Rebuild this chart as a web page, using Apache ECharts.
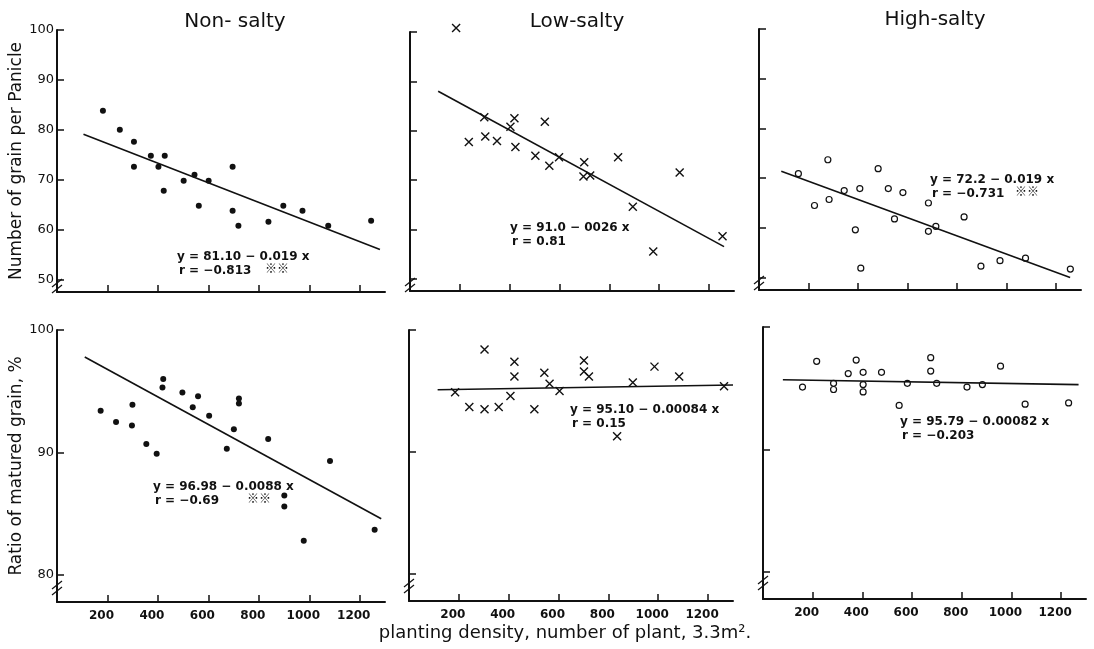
<!DOCTYPE html>
<html>
<head>
<meta charset="utf-8">
<script src="https://cdn.jsdelivr.net/npm/echarts@6/dist/echarts.min.js"></script>
<style>
  html, body { margin: 0; padding: 0; background: #fff; }
  #chart { width: 1094px; height: 649px; }
</style>
</head>
<body>
<div id="chart"></div>
<script>
// planting density (plants / 3.3 m2) vs. grain traits, three salt levels
var xTicks = [200, 400, 600, 800, 1000, 1200];
var yTicksGrain = [50, 60, 70, 80, 90, 100];
var yTicksRatio = [80, 90, 100];
var panelTitles = ['Non- salty', 'Low-salty', 'High-salty'];

// number of grain per panicle
var grainNon = [[182, 83.8], [249, 80.0], [305, 77.6], [305, 72.6], [372, 74.8], [402, 72.6], [427, 74.8], [423, 67.8],
  [502, 69.8], [545, 71.0], [562, 64.8], [601, 69.8], [696, 72.6], [696, 63.8], [719, 60.8], [838, 61.6],
  [897, 64.8], [973, 63.8], [1075, 60.8], [1245, 61.8]];
var grainLow = [[185, 100.8], [236, 77.7], [298, 82.7], [302, 78.8], [349, 77.9], [403, 80.8], [419, 82.5], [423, 76.7],
  [503, 74.9], [541, 81.8], [559, 72.9], [598, 74.6], [699, 73.6], [696, 70.7], [723, 70.9], [835, 74.6],
  [894, 64.6], [976, 55.5], [1082, 71.5], [1254, 58.6]];
var grainHigh = [[159, 70.9], [224, 64.5], [278, 73.7], [283, 65.7], [344, 67.5], [389, 59.6], [407, 67.9], [411, 51.9],
  [481, 71.9], [522, 67.9], [547, 61.8], [581, 67.1], [684, 65.0], [684, 59.3], [714, 60.3], [828, 62.2],
  [896, 52.3], [973, 53.4], [1076, 53.9], [1257, 51.7]];

// ratio of matured grain, %
var ratioNon = [[173, 93.4], [234, 92.5], [299, 93.9], [297, 92.2], [354, 90.7], [395, 89.9], [421, 96.0], [418, 95.3],
  [497, 94.9], [538, 93.7], [559, 94.6], [603, 93.0], [673, 90.3], [701, 91.9], [721, 94.0], [721, 94.4],
  [837, 91.1], [901, 86.5], [901, 85.6], [978, 82.8], [1082, 89.3], [1259, 83.7]];
var ratioLow = [[185, 94.9], [242, 93.7], [303, 98.4], [303, 93.5], [360, 93.7], [407, 94.6], [423, 97.4], [423, 96.2],
  [503, 93.5], [543, 96.5], [564, 95.6], [604, 95.0], [702, 97.5], [702, 96.6], [722, 96.2], [835, 91.3],
  [898, 95.7], [985, 97.0], [1084, 96.2], [1264, 95.4]];
var ratioHigh = [[159, 95.1], [216, 97.2], [284, 95.4], [284, 94.9], [343, 96.2], [375, 97.3], [403, 96.3], [403, 95.3],
  [403, 94.7], [477, 96.3], [548, 93.6], [581, 95.4], [675, 97.5], [675, 96.4], [699, 95.4], [821, 95.1],
  [883, 95.3], [956, 96.8], [1055, 93.7], [1230, 93.8]];

// regression lines, end points as drawn
var fitGrainNon = [[105, 79.1], [1280, 56.0]];
var fitGrainLow = [[113, 88.0], [1260, 56.5]];
var fitGrainHigh = [[90, 71.4], [1256, 50.0]];
var fitRatioNon = [[110, 97.8], [1285, 84.6]];
var fitRatioLow = [[115, 95.1], [1300, 95.5]];
var fitRatioHigh = [[80, 95.7], [1270, 95.3]];

var equations = [
  ['y = 81.10 − 0.019 x', 'r = −0.813', '※※'],
  ['y = 91.0 − 0026 x', 'r = 0.81', ''],
  ['y = 72.2 − 0.019 x', 'r = −0.731', '※※'],
  ['y = 96.98 − 0.0088 x', 'r = −0.69', '※※'],
  ['y = 95.10 − 0.00084 x', 'r = 0.15', ''],
  ['y = 95.79 − 0.00082 x', 'r = −0.203', '']
];

var FONT = '"DejaVu Sans", "Liberation Sans", sans-serif';
var INK = '#111';

var chart = echarts.init(document.getElementById('chart'), null, { renderer: 'canvas' });

var grids = [
  { left: 57, top: 30, width: 328, height: 262 },
  { left: 410, top: 32, width: 324, height: 259 },
  { left: 759, top: 29, width: 322, height: 261 },
  { left: 57, top: 330, width: 328, height: 272 },
  { left: 409, top: 330, width: 324, height: 271 },
  { left: 763, top: 327, width: 323, height: 272 }
];

var scatterSets = [grainNon, grainLow, grainHigh, ratioNon, ratioLow, ratioHigh];
var fitSets = [fitGrainNon, fitGrainLow, fitGrainHigh, fitRatioNon, fitRatioLow, fitRatioHigh];
var crossPath = 'path://M0 0L10 10M10 0L0 10';

function markerStyle(col) {
  if (col === 0) return { symbol: 'circle', symbolSize: 6, itemStyle: { color: INK, opacity: 1 } };
  if (col === 1) return { symbol: crossPath, symbolSize: 8, itemStyle: { color: 'none', borderColor: INK, borderWidth: 1.4, opacity: 1 } };
  return { symbol: 'circle', symbolSize: 6, itemStyle: { color: '#fff', borderColor: INK, borderWidth: 1.2, opacity: 1 } };
}

var xAxes = grids.map(function (g, i) {
  return {
    type: 'value', gridIndex: i, min: 0, max: 1300,
    axisLine: { lineStyle: { color: INK, width: 2 } },
    axisTick: { show: true, inside: true, length: 7, customValues: xTicks, lineStyle: { color: INK, width: 1.5 } },
    axisLabel: {
      show: i >= 3, customValues: xTicks, margin: 8, color: INK,
      fontFamily: FONT, fontSize: 12, fontWeight: 'bold', padding: [0, 12, 0, 0],
      formatter: function (v) { return String(v); }
    },
    splitLine: { show: false }
  };
});

var yAxes = grids.map(function (g, i) {
  var top = i < 3;
  var ticks = top ? yTicksGrain : yTicksRatio;
  var ax = {
    type: 'value', gridIndex: i, min: top ? 47.5 : 77.8, max: 100,
    axisLine: { lineStyle: { color: INK, width: 2 } },
    axisTick: { show: true, inside: true, length: 7, customValues: ticks, lineStyle: { color: INK, width: 1.5 } },
    axisLabel: {
      show: i === 0 || i === 3, customValues: ticks, margin: 3, color: INK,
      fontFamily: FONT, fontSize: 13,
      formatter: function (v) { return String(v); }
    },
    splitLine: { show: false }
  };
  if (i === 0 || i === 3) {
    ax.name = i === 0 ? 'Number of grain per Panicle' : 'Ratio of matured grain, %';
    ax.nameLocation = 'middle';
    ax.nameGap = 30;
    ax.nameTextStyle = { color: INK, fontFamily: FONT, fontSize: 17 };
  }
  return ax;
});

var series = [];
scatterSets.forEach(function (d, i) {
  var m = markerStyle(i % 3);
  series.push({
    type: 'scatter', xAxisIndex: i, yAxisIndex: i, data: d, clip: false,
    symbol: m.symbol, symbolSize: m.symbolSize, itemStyle: m.itemStyle,
    emphasis: { disabled: true }
  });
  series.push({
    type: 'line', xAxisIndex: i, yAxisIndex: i, data: fitSets[i], clip: false,
    symbol: 'none', lineStyle: { color: INK, width: 1.6 }, emphasis: { disabled: true }
  });
});

// annotation positions (pixels)
var eqPos = [[177, 257, 265], [510, 228, 0], [930, 180, 1015], [153, 487, 247], [570, 410, 0], [900, 422, 0]];
var titlePos = [[235, 22], [577, 22], [935, 20]];
var breaks = [[57, 286], [410, 285], [759, 283], [57, 588], [409, 586], [763, 583]];

var graphics = [];
panelTitles.forEach(function (t, i) {
  graphics.push({
    type: 'text', x: titlePos[i][0], y: titlePos[i][1],
    style: { text: t, fill: INK, font: '20px ' + FONT, textAlign: 'center', textVerticalAlign: 'middle' }
  });
});
equations.forEach(function (e, i) {
  var p = eqPos[i];
  graphics.push({ type: 'text', x: p[0], y: p[1],
    style: { text: e[0], fill: INK, font: 'bold 12px ' + FONT, textVerticalAlign: 'middle' } });
  graphics.push({ type: 'text', x: p[0] + 2, y: p[1] + 14,
    style: { text: e[1], fill: INK, font: 'bold 12px ' + FONT, textVerticalAlign: 'middle' } });
  if (e[2]) {
    graphics.push({ type: 'text', x: p[2], y: p[1] + 11,
      style: { text: e[2], fill: INK, font: 'bold 12px "Noto Sans CJK JP", ' + FONT, textVerticalAlign: 'middle' } });
  }
});
breaks.forEach(function (b) {
  [-3, 3].forEach(function (o) {
    graphics.push({ type: 'line', shape: { x1: b[0] - 5, y1: b[1] + o + 4, x2: b[0] + 5, y2: b[1] + o - 4 },
      style: { stroke: INK, lineWidth: 1.3 } });
  });
});
graphics.push({
  type: 'text', x: 565, y: 633,
  style: { text: 'planting density, number of plant, 3.3m².', fill: INK, font: '18px ' + FONT,
    textAlign: 'center', textVerticalAlign: 'middle' }
});

chart.setOption({
  backgroundColor: '#fff',
  animation: false,
  grid: grids,
  xAxis: xAxes,
  yAxis: yAxes,
  series: series,
  graphic: graphics
});

window.addEventListener('resize', function () { chart.resize(); });
</script>
</body>
</html>
